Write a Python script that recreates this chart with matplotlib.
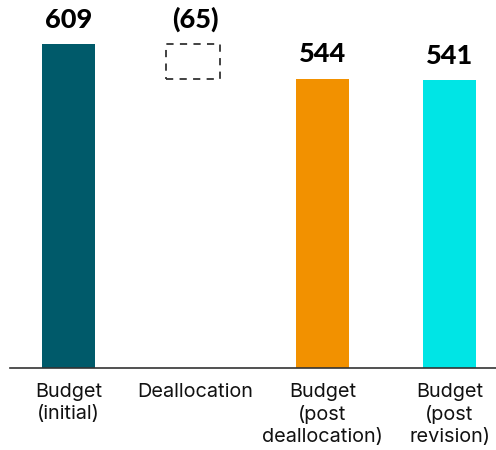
import matplotlib.pyplot as plt

categories = ['Budget\n(initial)', 'Deallocation', 'Budget\n(post\ndeallocation)', 'Budget\n(post\nrevision)']
values = [609, -65, 544, 541]
labels = ['609', '(65)', '544', '541']
colors = ['#005a6a', 'none', '#f29100', '#00e5e5']

fig = plt.figure(figsize=(4.96, 4.5), dpi=100)
ax = fig.add_axes([10 / 496, 82 / 450, 486 / 496, 368 / 450])

x = list(range(len(categories)))
# waterfall: the deallocation step floats on top of the post-deallocation total
bottoms = [0, values[0] + values[1], 0, 0]
heights = [values[0], -values[1], values[2], values[3]]

for i in x:
    if i == 1:
        ax.bar(i - 0.02, heights[i], bottom=bottoms[i], width=0.42, facecolor='none',
               edgecolor='#333333', linestyle=(0, (4, 3.5)), linewidth=1.3)
    else:
        ax.bar(i, heights[i], bottom=bottoms[i], width=0.42, color=colors[i])
    ax.annotate(labels[i], (i, bottoms[i] + heights[i]), xytext=(0, 9),
                textcoords='offset points', ha='center', va='bottom',
                fontsize=19.5, fontweight='black', family=['Lato', 'DejaVu Sans'],
                color='black')

ax.set_xlim(-0.46, 3.366)
ax.set_ylim(0, 692)
ax.set_xticks(x)
ax.set_xticklabels(categories, fontsize=14.3, family=['Inter', 'DejaVu Sans'],
                   color='#111111', linespacing=1.25)
ax.tick_params(axis='x', length=0, pad=11)
ax.set_yticks([])
for s in ['top', 'right', 'left']:
    ax.spines[s].set_visible(False)
ax.spines['bottom'].set_color('#333333')
ax.spines['bottom'].set_linewidth(1.2)

fig.savefig('out.png', dpi=100)
